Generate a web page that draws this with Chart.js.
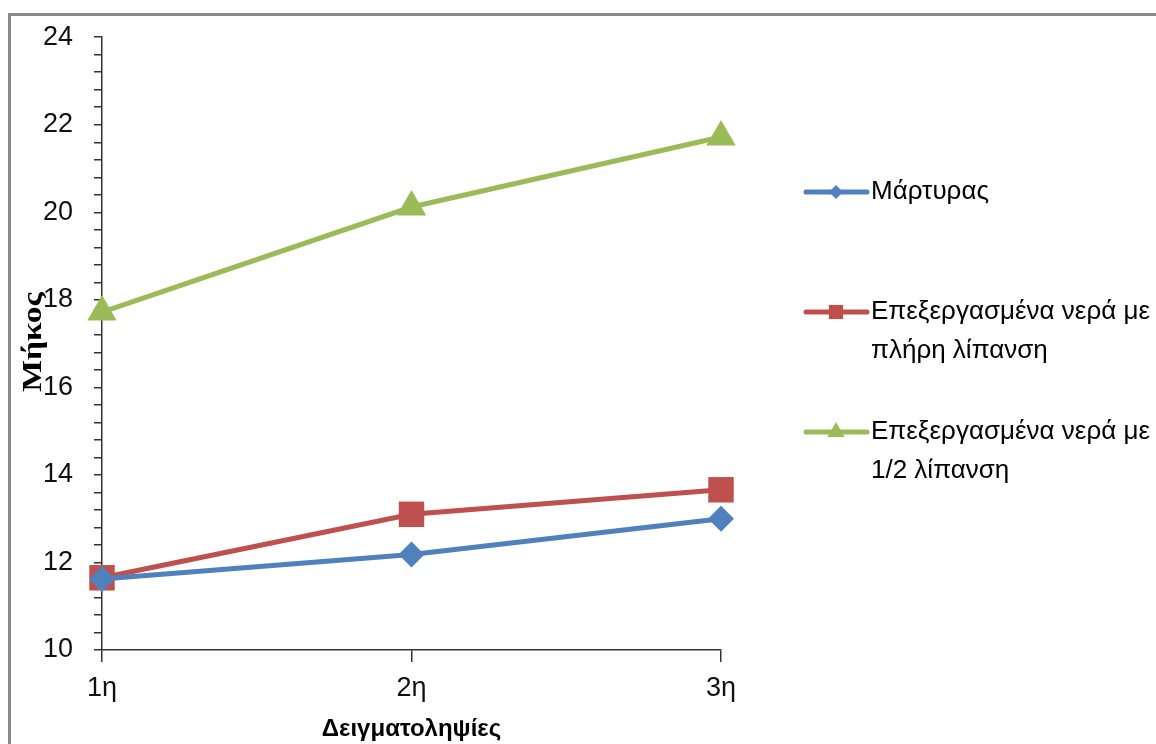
<!DOCTYPE html>
<html>
<head>
<meta charset="utf-8">
<script src="https://cdn.jsdelivr.net/npm/chart.js@4.4.1/dist/chart.umd.min.js"></script>
<style>
  html, body { margin: 0; padding: 0; background: #fff; }
  #wrap { width: 1156px; height: 744px; }
</style>
</head>
<body>
<div id="wrap"><canvas id="chart" width="1156" height="744"></canvas></div>
<script>
// data
const categories = ['1η', '2η', '3η'];
const martyras = [11.62, 12.18, 13.0];
const fullFert = [11.65, 13.1, 13.66];
const halfFert = [17.72, 20.12, 21.72];
const seriesNames = [
    ['Μάρτυρας'],
    ['Επεξεργασμένα νερά με', 'πλήρη λίπανση'],
    ['Επεξεργασμένα νερά με', '1/2 λίπανση']
];
const yMin = 10, yMax = 24, yLabelStep = 2, yMinorStep = 0.4;
const yTitle = 'Μήκος';
const xTitle = 'Δειγματοληψίες';

const colors = ['#4F81BD', '#C0504D', '#9BBB59'];
const markers = ['rectRot', 'rect', 'triangle'];
const markerSize = [13, 18, 17];
const legendMarkerSize = [7, 10, 10];
const font = '"Liberation Sans", Arial, sans-serif';

// grey frame at the top-left like the original screenshot
const framePlugin = {
    id: 'frame',
    beforeDraw(chart) {
        const ctx = chart.ctx;
        ctx.save();
        ctx.strokeStyle = '#888';
        ctx.lineWidth = 3;
        ctx.beginPath();
        ctx.moveTo(9.5, chart.height);
        ctx.lineTo(9.5, 14.5);
        ctx.lineTo(chart.width, 14.5);
        ctx.stroke();
        ctx.restore();
    }
};

// y title sits over the tick labels, so it is drawn by hand
const yTitlePlugin = {
    id: 'yTitle',
    afterDraw(chart) {
        const ctx = chart.ctx;
        ctx.save();
        ctx.translate(34, 342);
        ctx.rotate(-Math.PI / 2);
        ctx.scale(1.2, 1);
        ctx.font = 'bold 28px "Liberation Serif", "Times New Roman", serif';
        ctx.fillStyle = '#000';
        ctx.textAlign = 'center';
        ctx.textBaseline = 'middle';
        ctx.fillText(yTitle, 0, 0);
        ctx.restore();
    }
};

function drawMarker(ctx, style, x, y, r) {
    ctx.beginPath();
    if (style === 'rectRot') {
        ctx.moveTo(x - r, y); ctx.lineTo(x, y - r); ctx.lineTo(x + r, y); ctx.lineTo(x, y + r);
    } else if (style === 'rect') {
        const s = r * Math.SQRT1_2;
        ctx.rect(x - s, y - s, 2 * s, 2 * s);
    } else {
        ctx.moveTo(x, y - r);
        ctx.lineTo(x + r * 0.866, y + r / 2);
        ctx.lineTo(x - r * 0.866, y + r / 2);
    }
    ctx.closePath();
    ctx.fill();
}

const legendPlugin = {
    id: 'sideLegend',
    afterDraw(chart) {
        const ctx = chart.ctx;
        const rows = [192, 312, 432];
        ctx.save();
        ctx.font = '26px ' + font;
        ctx.textBaseline = 'middle';
        ctx.textAlign = 'left';
        chart.data.datasets.forEach((ds, i) => {
            const y = rows[i];
            ctx.strokeStyle = ds.borderColor;
            ctx.fillStyle = ds.borderColor;
            ctx.lineWidth = 5;
            ctx.lineCap = 'round';
            ctx.beginPath();
            ctx.moveTo(806, y);
            ctx.lineTo(867, y);
            ctx.stroke();
            drawMarker(ctx, markers[i], 836, y, legendMarkerSize[i]);
            ctx.fillStyle = '#000';
            seriesNames[i].forEach((line, j) => {
                ctx.fillText(line, 871, y + j * 39);
            });
        });
        ctx.restore();
    }
};

const datasets = [martyras, fullFert, halfFert].map((vals, i) => ({
    label: seriesNames[i].join(' '),
    data: vals,
    borderColor: colors[i],
    backgroundColor: colors[i],
    borderWidth: 5,
    tension: 0,
    fill: false,
    pointStyle: markers[i],
    pointRadius: markerSize[i],
    pointBorderWidth: 0,
    pointBackgroundColor: colors[i],
    clip: false
}));

new Chart(document.getElementById('chart'), {
    type: 'line',
    data: { labels: categories, datasets: datasets },
    options: {
        responsive: false,
        animation: false,
        events: [],
        layout: { padding: { left: 0, right: 435, top: 34, bottom: 0 } },
        plugins: {
            legend: { display: false },
            tooltip: { enabled: false }
        },
        scales: {
            x: {
                offset: false,
                grid: { drawOnChartArea: false, drawTicks: true, tickLength: 12, color: '#333', lineWidth: 1.5 },
                border: { color: '#333', width: 1.5 },
                ticks: { color: '#111', font: { family: font, size: 27 }, padding: 10, maxRotation: 0 },
                title: { display: true, text: xTitle, color: '#000', font: { family: font, size: 24, weight: 'bold' }, padding: { top: 0, bottom: 0 } },
                afterFit(scale) { scale.height = 94; }
            },
            y: {
                min: yMin,
                max: yMax,
                grid: { drawOnChartArea: false, drawTicks: true, tickLength: 8, color: '#333', lineWidth: 1.5 },
                border: { color: '#333', width: 1.5 },
                ticks: {
                    stepSize: yMinorStep,
                    autoSkip: false,
                    padding: 21,
                    color: '#111',
                    font: { family: font, size: 27 },
                    callback(v) {
                        const k = v / yLabelStep;
                        return Math.abs(k - Math.round(k)) < 1e-6 ? String(Math.round(v)) : '';
                    }
                },
                afterFit(scale) { scale.width = 102; }
            }
        }
    },
    plugins: [framePlugin, yTitlePlugin, legendPlugin]
});
</script>
</body>
</html>
